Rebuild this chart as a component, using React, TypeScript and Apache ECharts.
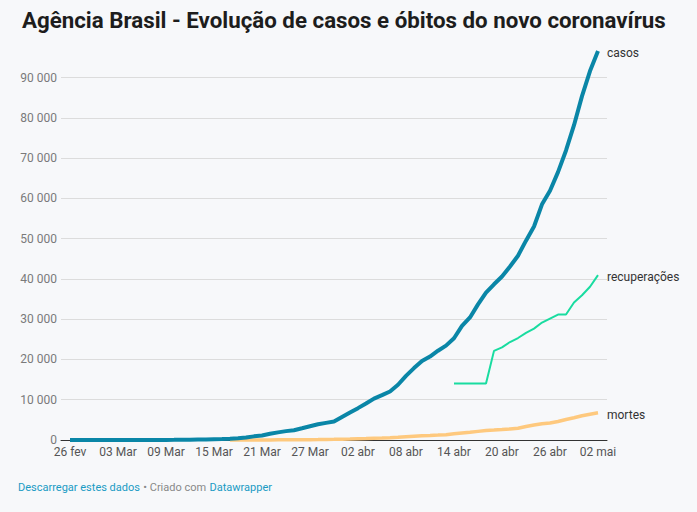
import React, { useEffect, useRef } from "react";
import * as echarts from "echarts";

// Day index 0 = 26 fev 2020 ... 66 = 02 mai 2020
const tickLabels = ["26 fev", "03 Mar", "09 Mar", "15 Mar", "21 Mar", "27 Mar", "02 abr", "08 abr", "14 abr", "20 abr", "26 abr", "02 mai"];
const tickIndex = [0, 6, 12, 18, 24, 30, 36, 42, 48, 54, 60, 66];

const casos = [
  1, 1, 1, 2, 2, 2, 2, 3, 8, 13, 19, 25, 25, 34, 52, 77, 98, 121, 200, 234,
  291, 428, 621, 904, 1128, 1546, 1891, 2201, 2433, 2915, 3417, 3904, 4256, 4579, 5717,
  6836, 7910, 9056, 10278, 11130, 12056, 13717, 15927, 17857, 19638, 20727, 22169, 23430,
  25262, 28320, 30425, 33682, 36599, 38654, 40581, 43079, 45757, 49492, 52995, 58509,
  61888, 66501, 71886, 78162, 85380, 91589, 96559,
];

const mortes = [
  null, null, null, null, null, null, null, null, null, null, null, null, null, null, null, null, null, null, null, null,
  1, 4, 7, 11, 18, 25, 34, 46, 59, 77, 92, 111, 136, 159, 201,
  240, 324, 359, 445, 486, 564, 686, 819, 950, 1057, 1124, 1223, 1328,
  1532, 1736, 1924, 2141, 2354, 2462, 2587, 2741, 2906, 3331, 3704, 4057,
  4205, 4603, 5083, 5513, 6006, 6412, 6761,
];

const recuperacoesStart = 48; // 14 abr
const recuperacoes = [
  14026, 14026, 14026, 14026, 14026, 22130, 22991, 24325, 25318, 26573, 27655, 29160,
  30152, 31142, 31142, 34132, 35935, 38039, 40937,
];

const yTicks = [0, 10000, 20000, 30000, 40000, 50000, 60000, 70000, 80000, 90000];

const toPairs = (arr: (number | null)[], start = 0) =>
  arr.map((v, i) => [i + start, v]);

export default function App() {
  const ref = useRef<HTMLDivElement>(null);
  useEffect(() => {
    if (!ref.current) return;
    const chart = echarts.init(ref.current, null, { renderer: "svg" });
    const font = "Roboto, 'Noto Sans', sans-serif";
    const endLbl = (t: string) => ({
      show: true,
      formatter: t,
      color: "#333",
      fontSize: 12,
      fontFamily: font,
      distance: 9,
      offset: [0, 2],
    });
    chart.setOption({
      animation: false,
      backgroundColor: "#f7f8fa",
      textStyle: { fontFamily: font },
      title: {
        text: "Agência Brasil - Evolução de casos e óbitos do novo coronavírus",
        left: 17,
        top: 4,
        textStyle: { fontFamily: font, fontSize: 22.3, fontWeight: "bold", color: "#1d1d1d" },
      },
      grid: { left: 61, right: 90, top: 77.5, bottom: 72 },
      xAxis: {
        type: "value",
        min: -1.125,
        max: 67.125,
        axisLine: { show: true, lineStyle: { color: "#333", width: 1 } },
        axisTick: { show: false },
        splitLine: { show: false },
        axisLabel: {
          customValues: tickIndex,
          formatter: (v: number) => tickLabels[tickIndex.indexOf(Math.round(v))] ?? "",
          color: "#555",
          fontSize: 12,
          fontFamily: font,
          margin: 6,
        },
      },
      yAxis: {
        type: "value",
        min: yTicks[0],
        max: yTicks[yTicks.length - 1],
        interval: 10000,
        axisLine: { show: false },
        axisTick: { show: false },
        splitLine: { lineStyle: { color: "#dcdcdc", width: 1 } },
        axisLabel: {
          formatter: (v: number) => String(v).replace(/\B(?=(\d{3})+(?!\d))/g, " "),
          color: "#7a7a7a",
          fontSize: 12,
          fontFamily: font,
          margin: 4,
        },
      },
      series: [
        {
          name: "mortes",
          type: "line",
          data: toPairs(mortes),
          showSymbol: false,
          clip: false,
          z: 2,
          lineStyle: { color: "#fec97e", width: 3.5 },
          itemStyle: { color: "#fec97e" },
          endLabel: endLbl("mortes"),
        },
        {
          name: "recuperações",
          type: "line",
          data: toPairs(recuperacoes, recuperacoesStart),
          showSymbol: false,
          clip: false,
          z: 3,
          lineStyle: { color: "#19dca0", width: 2 },
          itemStyle: { color: "#19dca0" },
          endLabel: endLbl("recuperações"),
        },
        {
          name: "casos",
          type: "line",
          data: toPairs(casos),
          showSymbol: false,
          clip: false,
          z: 4,
          lineStyle: { color: "#0a86a7", width: 4 },
          itemStyle: { color: "#0a86a7" },
          endLabel: endLbl("casos"),
        },
      ],
      graphic: [
        {
          type: "text",
          left: 18,
          top: 481,
          style: {
            text: "{a|Descarregar estes dados} {b|• Criado com} {a|Datawrapper}",
            rich: {
              a: { fill: "#1a9bc4", fontSize: 11, fontFamily: font },
              b: { fill: "#888", fontSize: 11, fontFamily: font },
            },
          },
        },
      ],
    });
    return () => chart.dispose();
  }, []);
  return <div ref={ref} style={{ width: 697, height: 512, position: "fixed", left: 0, top: 0 }} />;
}
